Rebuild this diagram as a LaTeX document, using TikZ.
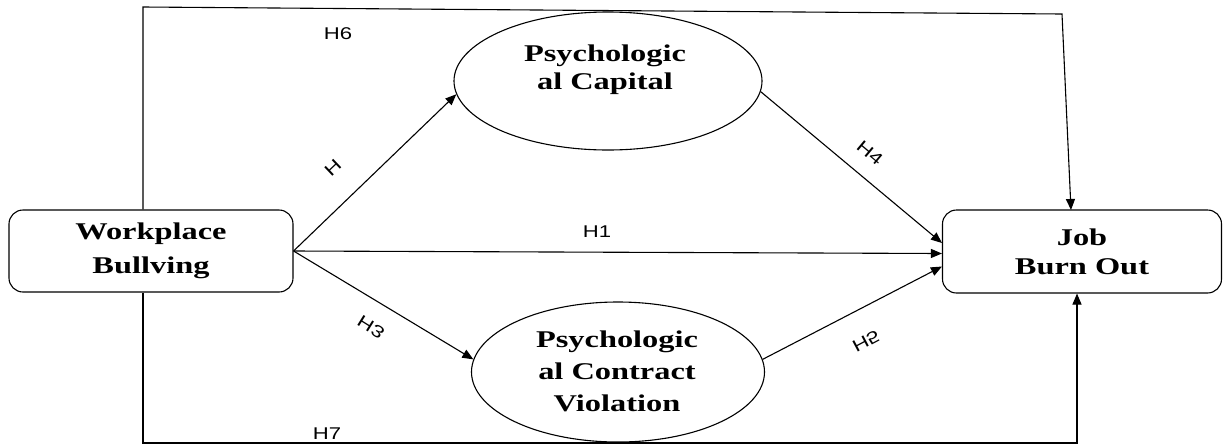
\documentclass[tikz,border=0pt]{standalone}
\usepackage{fontspec}
\usetikzlibrary{arrows.meta,shapes.geometric}
\newfontfamily\nodefont[FakeStretch=1.35]{Liberation Serif}
\newfontfamily\labfont[FakeStretch=1.3]{Liberation Sans}
\begin{document}
\begin{tikzpicture}[x=1pt,y=-1pt,
  every path/.style={line width=1.1pt},
  boxnode/.style={draw, rounded corners=14pt, align=center, inner sep=0pt,
    font=\nodefont\bfseries},
  ellnode/.style={draw, ellipse, inner sep=0pt},
  elltext/.style={align=center, font=\nodefont\bfseries, inner sep=0pt},
  arr/.style={-{Triangle[length=11pt,width=9pt]}},
  hlab/.style={font=\labfont\fontsize{17}{19}\selectfont, inner sep=0pt}]
\useasboundingbox (0,0) rectangle (1223,445);
\fill[white] (0,0) rectangle (1223,445);
% nodes
\node[boxnode, minimum width=284pt, minimum height=82pt,
  font=\nodefont\bfseries\fontsize{24}{34}\selectfont] (wb) at (151,251) {Workplace\\Bullving};
\node[boxnode, minimum width=279pt, minimum height=83pt,
  font=\nodefont\bfseries\fontsize{24}{29}\selectfont] (jb) at (1082,251.5) {Job\\Burn Out};
\node[ellnode, minimum width=308pt, minimum height=138pt] (pc) at (608,81) {};
\node[elltext, font=\nodefont\bfseries\fontsize{24}{28}\selectfont] (pct) at (605,70) {Psychologic\\al Capital};
\node[ellnode, minimum width=293pt, minimum height=140pt] (cv) at (618,372) {};
\node[elltext, font=\nodefont\bfseries\fontsize{24}{32}\selectfont] (cvt) at (617,371) {Psychologic\\al Contract\\Violation};
% frame coordinates
\coordinate (tl) at (143,7);
\coordinate (tr) at (1062,14);
\coordinate (tre) at (1071,210);
\coordinate (bl) at (143,443);
\coordinate (br) at (1077,443);
% connectors
\draw[arr] (wb.east) -- (pc.185);
\draw[arr] (wb.east) -- ([yshift=-2pt]jb.west);
\draw[arr] (wb.east) -- (cv.175);
\draw[arr] (pc.-4) -- ([yshift=8.5pt]jb.west);
\draw[arr] (cv.5) -- ([yshift=-15pt]jb.west);
\draw[arr] (wb.north -| tl) -- (tl) -- (tr) -- (tre);
\draw[arr] (wb.south -| bl) -- (bl) -- (br) -- (jb.south -| br);
% labels
\node[hlab, rotate=43.5] (l2) at (333,168) {H};
\node[hlab] (l1) at (597,232) {H1};
\node[hlab, rotate=-32, yscale=-1] (l3) at (371,327) {H3};
\node[hlab, rotate=-40] (l4) at (870,153) {H4};
\node[hlab, rotate=28, yscale=-1] (l5) at (866,341) {H5};
\node[hlab] (l6) at (338,34) {H6};
\node[hlab] (l7) at (327,434) {H7};
\end{tikzpicture}
\end{document}
